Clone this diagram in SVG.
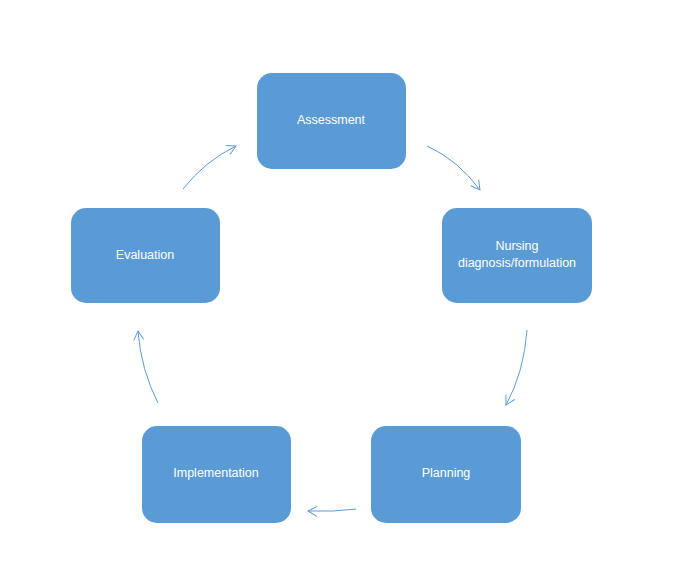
<svg xmlns="http://www.w3.org/2000/svg" width="678" height="574" viewBox="0 0 678 574">
<style>
.box{fill:#5B9BD5;}
.lbl{font-family:"Liberation Sans",Arial,sans-serif;font-size:12.5px;fill:#FFFFFF;text-anchor:middle;}
.arc{fill:none;stroke:#5B9BD5;stroke-width:1;}
</style>
<defs>
<marker id="open" markerWidth="12" markerHeight="12" refX="10" refY="6" orient="auto" markerUnits="userSpaceOnUse">
<path d="M1,1 L10,6 L1,11" fill="none" stroke="#5B9BD5" stroke-width="1"/>
</marker>
</defs>
<rect width="678" height="574" fill="#FFFFFF"/>
<g id="assessment">
<rect class="box" x="257" y="73" width="149" height="96" rx="15"/>
<text class="lbl" x="331" y="124">Assessment</text>
</g>
<g id="nursing">
<rect class="box" x="442" y="208" width="150" height="95" rx="15"/>
<text class="lbl" x="517" y="250">Nursing</text>
<text class="lbl" x="517" y="267">diagnosis/formulation</text>
</g>
<g id="planning">
<rect class="box" x="371" y="426" width="150" height="97" rx="15"/>
<text class="lbl" x="446" y="477">Planning</text>
</g>
<g id="implementation">
<rect class="box" x="142" y="426" width="149" height="97" rx="15"/>
<text class="lbl" x="216" y="477">Implementation</text>
</g>
<g id="evaluation">
<rect class="box" x="71" y="208" width="149" height="95" rx="15"/>
<text class="lbl" x="145" y="259">Evaluation</text>
</g>
<g id="connectors">
<path class="arc" d="M427,146 Q458,160 480,190" marker-end="url(#open)"/>
<path class="arc" d="M527,330 Q524,372 506,405" marker-end="url(#open)"/>
<path class="arc" d="M356,509 Q334,512 308,511" marker-end="url(#open)"/>
<path class="arc" d="M158,403 Q141,370 138,331" marker-end="url(#open)"/>
<path class="arc" d="M183,189 Q205,161 236,146" marker-end="url(#open)"/>
</g>
</svg>
